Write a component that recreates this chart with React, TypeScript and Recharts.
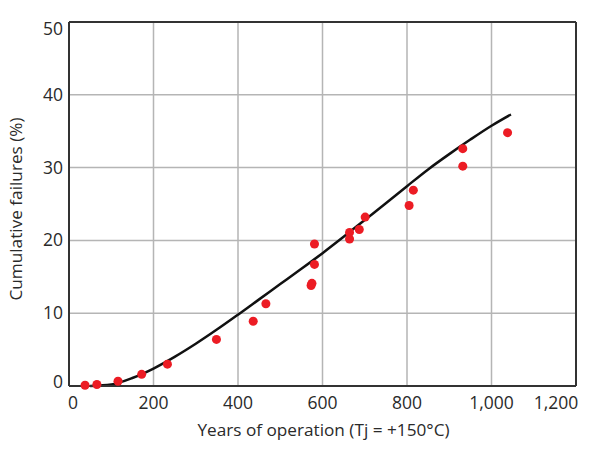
import {
  ComposedChart,
  Line,
  Scatter,
  XAxis,
  YAxis,
  CartesianGrid,
  ReferenceLine,
  Label,
} from "recharts";

// measured failures (years, %)
const failureYears = [38, 66, 116, 172, 233, 349, 436, 466, 573, 575, 581, 581, 664, 664, 687, 701, 805, 815, 932, 932, 1038];
const failurePct = [0.1, 0.2, 0.65, 1.6, 3.0, 6.4, 8.9, 11.3, 13.8, 14.1, 16.7, 19.5, 20.2, 21.1, 21.5, 23.2, 24.8, 26.9, 30.2, 32.6, 34.8];

// fitted curve
const curveYears = [50, 100, 150, 200, 250, 300, 350, 400, 450, 500, 550, 600, 650, 700, 750, 800, 850, 900, 950, 1000, 1046];
const curvePct = [0, 0.2, 1.1, 2.4, 4.0, 5.8, 7.75, 9.8, 11.9, 14.0, 16.1, 18.25, 20.5, 22.8, 25.1, 27.45, 29.75, 31.85, 33.85, 35.75, 37.3];

const xTicks = [0, 200, 400, 600, 800, 1000, 1200];
const yTicks = [0, 10, 20, 30, 40, 50];

const points = failureYears.map((x, i) => ({ x, y: failurePct[i] }));
const curve = curveYears.map((x, i) => ({ x, y: curvePct[i] }));

const FONT = "'Open Sans', Lato, sans-serif";
const TEXT = "#2a2a2a";

const fmt = (v: number) => v.toLocaleString("en-US");

const XTick = ({ x, y, payload }: any) => {
  let shift = 0;
  if (payload.value === 0) shift = 4;
  if (payload.value === 1200) shift = -20;
  return (
    <text x={x + shift} y={y + 23} textAnchor="middle" fill={TEXT} fontSize={17.5} fontFamily={FONT}>
      {fmt(payload.value)}
    </text>
  );
};

const YTick = ({ x, y, payload }: any) => {
  let shift = 0;
  if (payload.value === 0) shift = -4;
  if (payload.value === 50) shift = 7;
  return (
    <text x={x - 6} y={y + shift + 6} textAnchor="end" fill={TEXT} fontSize={17.5} fontFamily={FONT}>
      {payload.value}
    </text>
  );
};

const App = () => {
  return (
    <div style={{ position: "absolute", left: 0, top: 0, background: "#fff" }}>
      <ComposedChart width={595} height={456} margin={{ top: 22, right: 19, left: 0, bottom: 0 }}>
        <CartesianGrid stroke="#b5b5b5" strokeWidth={1.5} />
        <XAxis
          type="number"
          dataKey="x"
          domain={[0, 1200]}
          ticks={xTicks}
          height={70}
          tickSize={0}
          tickMargin={0}
          tick={<XTick />}
          stroke="#333"
          strokeWidth={2}
        >
          <Label
            content={({ viewBox }: any) => (
              <text
                x={viewBox.x + viewBox.width / 2 + 1}
                y={viewBox.y + 50}
                textAnchor="middle"
                fill={TEXT}
                fontSize={17.2}
                fontFamily={FONT}
              >
                Years of operation (Tj = +150°C)
              </text>
            )}
          />
        </XAxis>
        <YAxis
          type="number"
          dataKey="y"
          domain={[0, 50]}
          ticks={yTicks}
          width={69}
          tickSize={0}
          tickMargin={0}
          tick={<YTick />}
          stroke="#333"
          strokeWidth={2}
        >
          <Label
            content={({ viewBox }: any) => (
              <text
                x={22}
                y={viewBox.y + viewBox.height / 2 + 5}
                transform={`rotate(-90, 22, ${viewBox.y + viewBox.height / 2 + 5})`}
                textAnchor="middle"
                fill={TEXT}
                fontSize={17.2}
                fontFamily={FONT}
              >
                Cumulative failures (%)
              </text>
            )}
          />
        </YAxis>
        <ReferenceLine y={50} stroke="#333" strokeWidth={2} />
        <ReferenceLine x={1200} stroke="#333" strokeWidth={2} />
        <Line
          data={curve}
          dataKey="y"
          type="monotone"
          stroke="#111"
          strokeWidth={2.5}
          dot={false}
          activeDot={false}
          isAnimationActive={false}
        />
        <Scatter data={points} dataKey="y" fill="#ec1c24" shape="circle" isAnimationActive={false} />
      </ComposedChart>
    </div>
  );
};

export default App;
